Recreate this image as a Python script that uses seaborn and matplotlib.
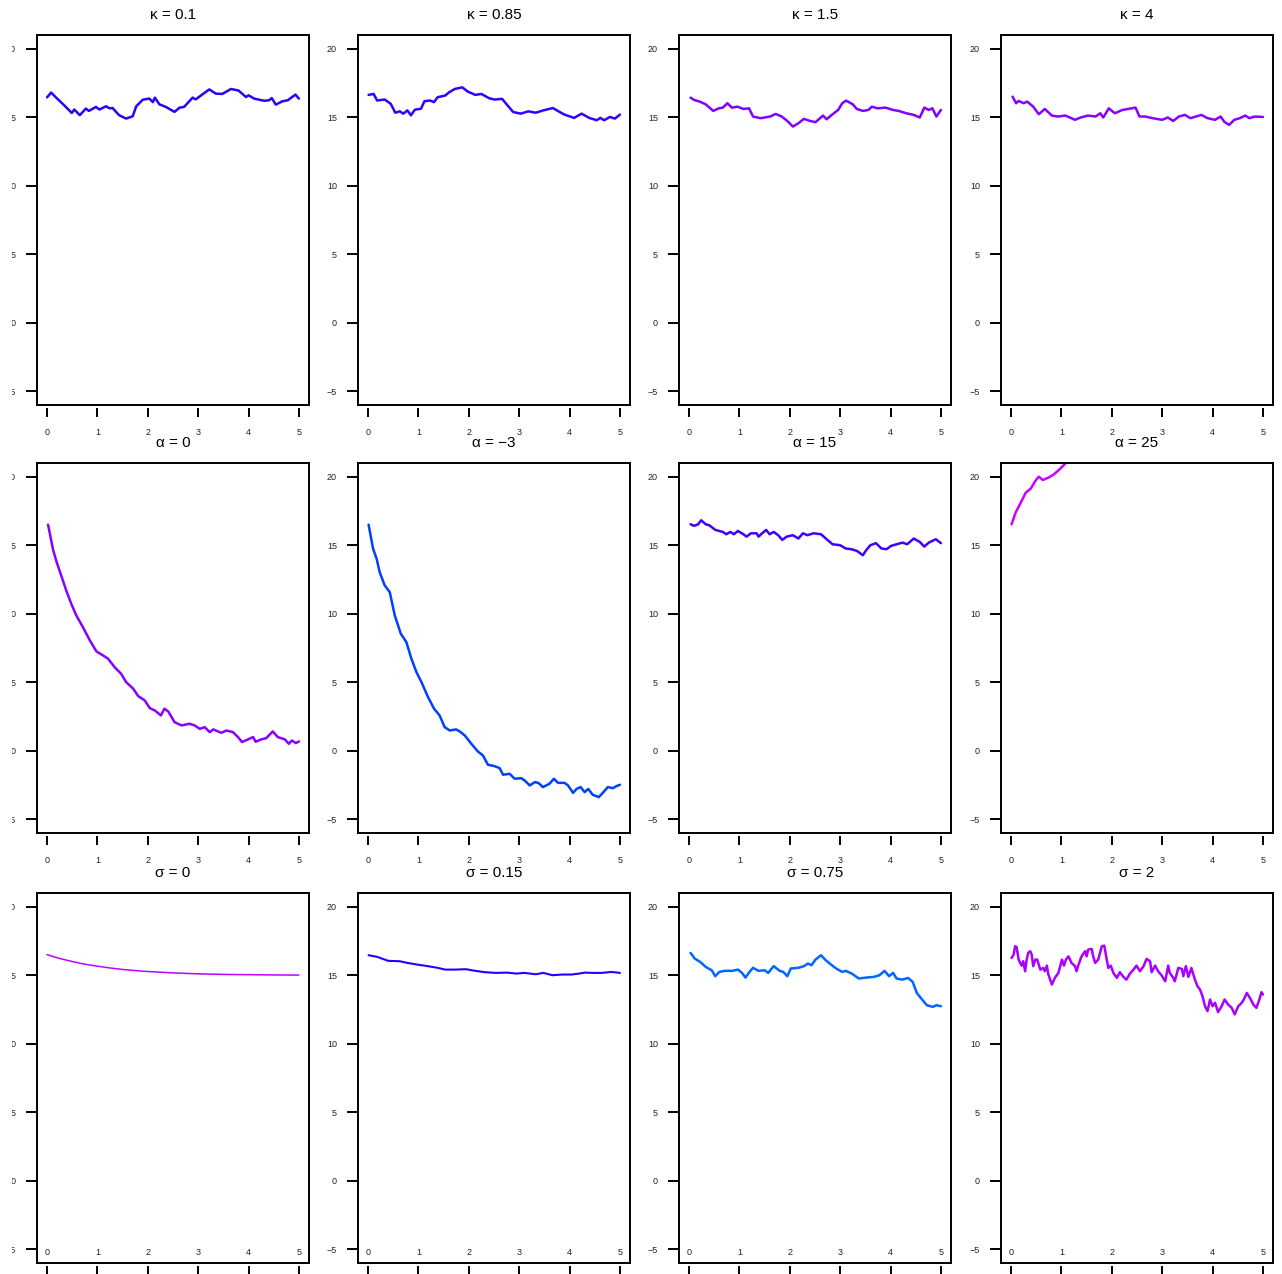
import matplotlib
matplotlib.use("Agg")
import matplotlib.pyplot as plt
import pandas as pd
import seaborn as sns
from matplotlib.transforms import Bbox, TransformedBbox

# ---- sample paths (time, level) for each parameter setting ----
t_kappa_01 = [0.0, 0.08, 0.18, 0.34, 0.49, 0.54, 0.65, 0.77, 0.83, 0.97, 1.04, 1.17, 1.24, 1.3, 1.43, 1.57,
              1.7, 1.77, 1.9, 2.03, 2.1, 2.14, 2.23, 2.36, 2.53, 2.63, 2.72, 2.89, 2.95, 3.06, 3.22, 3.35,
              3.48, 3.65, 3.8, 3.95, 4.0, 4.11, 4.31, 4.41, 4.46, 4.54, 4.67, 4.78, 4.93, 5.0]
y_kappa_01 = [16.45, 16.8, 16.43, 15.87, 15.31, 15.56, 15.15, 15.63, 15.46, 15.75, 15.56, 15.8, 15.65, 15.67,
              15.15, 14.9, 15.07, 15.8, 16.28, 16.36, 16.1, 16.43, 15.94, 15.75, 15.39, 15.7, 15.75, 16.43,
              16.3, 16.6, 17.03, 16.72, 16.7, 17.06, 16.95, 16.47, 16.6, 16.36, 16.2, 16.24, 16.4, 15.92,
              16.16, 16.24, 16.65, 16.36]

t_kappa_085 = [0.01, 0.11, 0.18, 0.33, 0.45, 0.54, 0.63, 0.7, 0.78, 0.85, 0.93, 1.05, 1.12, 1.23, 1.31,
               1.38, 1.53, 1.61, 1.72, 1.87, 1.98, 2.13, 2.25, 2.4, 2.51, 2.66, 2.77, 2.88, 3.03, 3.18,
               3.33, 3.48, 3.67, 3.78, 3.9, 4.09, 4.24, 4.39, 4.54, 4.61, 4.69, 4.8, 4.9, 5.0]
y_kappa_085 = [16.63, 16.7, 16.22, 16.29, 15.98, 15.33, 15.43, 15.26, 15.5, 15.14, 15.55, 15.62, 16.17,
               16.22, 16.1, 16.46, 16.58, 16.82, 17.06, 17.18, 16.87, 16.63, 16.7, 16.39, 16.29, 16.34,
               15.86, 15.38, 15.26, 15.43, 15.33, 15.5, 15.67, 15.43, 15.19, 14.95, 15.26, 14.95, 14.78,
               14.95, 14.78, 15.02, 14.9, 15.19]

t_kappa_15 = [0.03, 0.1, 0.21, 0.33, 0.48, 0.59, 0.67, 0.76, 0.85, 0.96, 1.08, 1.19, 1.27, 1.42, 1.61,
              1.72, 1.84, 1.95, 2.06, 2.17, 2.28, 2.4, 2.51, 2.66, 2.73, 2.85, 2.96, 3.04, 3.12, 3.25,
              3.33, 3.45, 3.56, 3.63, 3.74, 3.9, 4.05, 4.16, 4.31, 4.46, 4.58, 4.67, 4.76, 4.83, 4.91, 5.0]
y_kappa_15 = [16.43, 16.26, 16.14, 15.94, 15.46, 15.65, 15.7, 16.02, 15.7, 15.77, 15.6, 15.65, 15.05,
              14.93, 15.05, 15.24, 15.05, 14.73, 14.32, 14.56, 14.88, 14.73, 14.64, 15.12, 14.85, 15.22,
              15.53, 16.02, 16.21, 15.94, 15.6, 15.46, 15.53, 15.77, 15.65, 15.7, 15.53, 15.46, 15.29,
              15.17, 14.98, 15.7, 15.53, 15.65, 15.05, 15.53]

t_kappa_4 = [0.03, 0.1, 0.15, 0.25, 0.32, 0.44, 0.55, 0.67, 0.81, 0.93, 1.08, 1.27, 1.38, 1.53, 1.68,
             1.77, 1.83, 1.94, 2.06, 2.21, 2.32, 2.47, 2.55, 2.66, 2.81, 3.0, 3.11, 3.22, 3.33, 3.45,
             3.56, 3.67, 3.78, 3.9, 4.05, 4.16, 4.24, 4.33, 4.43, 4.54, 4.65, 4.73, 4.84, 5.0]
y_kappa_4 = [16.5, 16.02, 16.19, 16.02, 16.14, 15.77, 15.22, 15.6, 15.12, 15.05, 15.12, 14.81, 14.98,
             15.12, 15.05, 15.29, 14.98, 15.65, 15.29, 15.53, 15.6, 15.7, 15.05, 15.05, 14.93, 14.81,
             14.98, 14.73, 15.05, 15.17, 14.93, 15.05, 15.17, 14.93, 14.81, 15.05, 14.64, 14.44, 14.81,
             14.93, 15.12, 14.93, 15.05, 15.02]

t_alpha_0 = [0.02, 0.12, 0.19, 0.28, 0.38, 0.48, 0.58, 0.71, 0.85, 0.98, 1.11, 1.21, 1.34, 1.47, 1.57,
             1.71, 1.81, 1.94, 2.04, 2.14, 2.26, 2.33, 2.41, 2.53, 2.67, 2.83, 2.93, 3.03, 3.13, 3.23,
             3.3, 3.46, 3.56, 3.69, 3.79, 3.87, 3.99, 4.09, 4.14, 4.25, 4.35, 4.48, 4.58, 4.72, 4.8,
             4.86, 4.94, 5.0]
y_alpha_0 = [16.5, 14.65, 13.77, 12.8, 11.7, 10.73, 9.88, 9.03, 8.05, 7.25, 6.96, 6.72, 6.11, 5.62, 5.01,
             4.53, 3.99, 3.67, 3.11, 2.94, 2.58, 3.07, 2.85, 2.09, 1.85, 1.97, 1.85, 1.6, 1.72, 1.36,
             1.56, 1.31, 1.48, 1.36, 1.0, 0.64, 0.83, 1.0, 0.66, 0.83, 0.92, 1.41, 1.0, 0.83, 0.51,
             0.75, 0.56, 0.68]

t_alpha_m3 = [0.01, 0.1, 0.17, 0.23, 0.33, 0.43, 0.53, 0.65, 0.76, 0.86, 0.96, 1.06, 1.19, 1.31, 1.42,
              1.52, 1.62, 1.75, 1.82, 1.92, 2.05, 2.18, 2.28, 2.38, 2.51, 2.61, 2.68, 2.81, 2.91, 3.04,
              3.11, 3.21, 3.31, 3.38, 3.47, 3.6, 3.69, 3.77, 3.9, 3.97, 4.07, 4.14, 4.22, 4.3, 4.37,
              4.46, 4.58, 4.66, 4.76, 4.86, 4.93, 5.0]
y_alpha_m3 = [16.5, 14.74, 14.01, 13.04, 12.07, 11.58, 9.88, 8.54, 7.93, 6.72, 5.74, 5.01, 3.92, 3.07,
              2.58, 1.73, 1.48, 1.56, 1.41, 1.12, 0.51, -0.05, -0.34, -1.02, -1.12, -1.26, -1.75, -1.68,
              -2.04, -2.0, -2.17, -2.53, -2.29, -2.34, -2.65, -2.41, -2.04, -2.34, -2.34, -2.53, -3.07,
              -2.78, -2.65, -3.02, -2.78, -3.21, -3.38, -3.07, -2.65, -2.73, -2.58, -2.48]

t_alpha_15 = [0.03, 0.1, 0.18, 0.24, 0.33, 0.4, 0.52, 0.67, 0.74, 0.82, 0.89, 0.97, 1.08, 1.14, 1.23,
              1.34, 1.38, 1.45, 1.53, 1.6, 1.68, 1.77, 1.85, 1.94, 2.06, 2.17, 2.26, 2.35, 2.47, 2.62,
              2.73, 2.85, 3.0, 3.11, 3.22, 3.33, 3.45, 3.52, 3.6, 3.71, 3.82, 3.92, 4.01, 4.12, 4.24,
              4.33, 4.46, 4.58, 4.67, 4.76, 4.9, 5.0]
y_alpha_15 = [16.53, 16.41, 16.53, 16.82, 16.53, 16.46, 16.12, 15.97, 15.8, 15.97, 15.8, 16.04, 15.8,
              15.63, 15.87, 15.87, 15.63, 15.87, 16.12, 15.8, 15.97, 15.73, 15.39, 15.63, 15.73, 15.49,
              15.87, 15.73, 15.87, 15.8, 15.44, 15.07, 15.0, 14.76, 14.71, 14.59, 14.27, 14.66, 15.0,
              15.15, 14.76, 14.71, 14.95, 15.07, 15.19, 15.07, 15.49, 15.24, 14.9, 15.19, 15.44, 15.15]

t_alpha_25 = [0.01, 0.09, 0.14, 0.21, 0.29, 0.39, 0.48, 0.55, 0.63, 0.74, 0.85, 0.96, 1.08, 1.15]
y_alpha_25 = [16.53, 17.38, 17.74, 18.23, 18.83, 19.13, 19.68, 20.0, 19.76, 19.93, 20.17, 20.53, 20.97, 21.26]

t_sigma_0 = [0.0, 0.25, 0.5, 0.75, 1.0, 1.25, 1.5, 1.75, 2.0, 2.5, 3.0, 3.5, 4.0, 4.5, 5.0]
y_sigma_0 = [16.5, 16.22, 16.0, 15.8, 15.66, 15.53, 15.42, 15.34, 15.27, 15.17, 15.1, 15.06, 15.04, 15.02, 15.01]

t_sigma_015 = [0.01, 0.18, 0.4, 0.63, 0.78, 0.97, 1.19, 1.38, 1.53, 1.72, 1.94, 2.13, 2.32, 2.54, 2.76,
               2.95, 3.1, 3.33, 3.48, 3.66, 3.85, 4.04, 4.19, 4.3, 4.45, 4.64, 4.83, 5.0]
y_sigma_015 = [16.46, 16.34, 16.05, 16.02, 15.9, 15.78, 15.66, 15.54, 15.41, 15.41, 15.44, 15.32, 15.22,
               15.17, 15.19, 15.12, 15.17, 15.07, 15.17, 15.0, 15.05, 15.05, 15.12, 15.19, 15.17, 15.17,
               15.24, 15.17]

t_sigma_075 = [0.03, 0.11, 0.22, 0.33, 0.45, 0.52, 0.6, 0.71, 0.86, 0.97, 1.05, 1.12, 1.2, 1.27, 1.38,
               1.5, 1.57, 1.68, 1.8, 1.87, 1.95, 2.02, 2.17, 2.28, 2.36, 2.43, 2.51, 2.62, 2.7, 2.81,
               2.92, 3.04, 3.11, 3.23, 3.37, 3.52, 3.67, 3.78, 3.88, 3.97, 4.05, 4.12, 4.23, 4.35, 4.44,
               4.52, 4.61, 4.72, 4.84, 4.91, 5.0]
y_sigma_075 = [16.63, 16.22, 15.97, 15.61, 15.36, 14.93, 15.24, 15.32, 15.32, 15.41, 15.17, 14.83, 15.24,
               15.54, 15.32, 15.36, 15.17, 15.66, 15.32, 15.24, 14.93, 15.49, 15.54, 15.66, 15.85, 15.73,
               16.14, 16.46, 16.14, 15.8, 15.49, 15.24, 15.32, 15.12, 14.76, 14.83, 14.88, 15.0, 15.32,
               14.93, 15.17, 14.76, 14.68, 14.8, 14.51, 13.71, 13.3, 12.81, 12.69, 12.81, 12.74]

t_sigma_2 = [0.01, 0.05, 0.08, 0.11, 0.15, 0.18, 0.21, 0.24, 0.28, 0.31, 0.34, 0.38, 0.41, 0.44, 0.48,
             0.52, 0.58, 0.64, 0.67, 0.71, 0.74, 0.81, 0.87, 0.94, 1.01, 1.05, 1.09, 1.14, 1.2, 1.27,
             1.3, 1.34, 1.4, 1.47, 1.5, 1.53, 1.6, 1.63, 1.67, 1.73, 1.8, 1.85, 1.9, 1.93, 1.98,
             2.03, 2.1, 2.16, 2.23, 2.29, 2.36, 2.43, 2.49, 2.56, 2.63, 2.69, 2.76, 2.79, 2.86, 2.92,
             2.99, 3.06, 3.12, 3.15, 3.22, 3.25, 3.32, 3.39, 3.42, 3.47, 3.52, 3.58, 3.65, 3.7, 3.75,
             3.8, 3.85, 3.9, 3.95, 4.0, 4.05, 4.11, 4.18, 4.24, 4.31, 4.38, 4.44, 4.51, 4.58, 4.62,
             4.68, 4.74, 4.81, 4.87, 4.93, 4.97, 5.0]
y_sigma_2 = [16.26, 16.5, 17.11, 17.06, 16.14, 15.9, 15.7, 16.02, 15.29, 16.14, 16.63, 16.75, 16.5, 15.66,
             16.14, 16.14, 15.41, 15.53, 15.29, 15.7, 15.05, 14.32, 14.81, 15.17, 16.14, 15.7, 16.14,
             16.38, 15.9, 15.66, 15.29, 15.78, 16.38, 16.75, 16.38, 16.87, 16.92, 16.38, 15.9, 16.14,
             17.11, 17.16, 16.14, 15.53, 15.7, 15.17, 14.81, 15.22, 14.88, 14.68, 15.12, 15.41, 15.7,
             15.29, 15.66, 16.19, 16.02, 15.22, 15.7, 15.29, 14.98, 14.56, 15.7, 15.17, 14.81, 14.56,
             15.53, 15.46, 14.93, 15.66, 14.88, 15.53, 14.68, 14.2, 13.96, 13.47, 12.74, 12.38, 13.23,
             12.74, 12.99, 12.31, 12.74, 13.23, 12.86, 12.62, 12.14, 12.74, 12.99, 13.23, 13.71, 13.35,
             12.86, 12.62, 13.23, 13.76, 13.59]

titles = ["κ = 0.1", "κ = 0.85", "κ = 1.5", "κ = 4",
          "α = 0", "α = \u22123", "α = 15", "α = 25",
          "σ = 0", "σ = 0.15", "σ = 0.75", "σ = 2"]
series = [(t_kappa_01, y_kappa_01), (t_kappa_085, y_kappa_085), (t_kappa_15, y_kappa_15),
          (t_kappa_4, y_kappa_4), (t_alpha_0, y_alpha_0), (t_alpha_m3, y_alpha_m3),
          (t_alpha_15, y_alpha_15), (t_alpha_25, y_alpha_25), (t_sigma_0, y_sigma_0),
          (t_sigma_015, y_sigma_015), (t_sigma_075, y_sigma_075), (t_sigma_2, y_sigma_2)]
colors = ["#2a00ff", "#3300ff", "#8000ff", "#8800ff",
          "#8800ff", "#0040ff", "#4000ff", "#cc00ff",
          "#c000ff", "#2200ff", "#0066ff", "#aa00ff"]
x_ticks = [0, 1, 2, 3, 4, 5]
y_ticks = [-5, 0, 5, 10, 15, 20]

# ---- styling ----
sns.set_style("white")
plt.rcParams["font.family"] = ["Liberation Sans", "DejaVu Sans"]

W, H = 1282, 1274
fig = plt.figure(figsize=(W / 100, H / 100), dpi=100, facecolor="white")

col_left = [37, 358, 679, 1001]
row_top = [35, 463, 893]
box_w, box_h = 272, 370
left_axes = []

for i, (title, (t, y), color) in enumerate(zip(titles, series, colors)):
    r, c = divmod(i, 4)
    ax = fig.add_axes([col_left[c] / W, 1 - (row_top[r] + box_h) / H, box_w / W, box_h / H])
    df = pd.DataFrame({"t": t, "y": y})
    lw = 1.1 if title == "σ = 0" else (1.5 if title == "σ = 0.15" else 1.8)
    sns.lineplot(data=df, x="t", y="y", ax=ax, color=color, lw=lw,
                 sort=False, estimator=None, solid_joinstyle="round")
    ax.set_xlim(-0.2, 5.2)
    ax.set_ylim(-6, 21)
    ax.set_xlabel("")
    ax.set_ylabel("")
    ax.set_facecolor("white")
    for sp in ax.spines.values():
        sp.set_visible(True)
        sp.set_color("black")
        sp.set_linewidth(1.4)

    ax.set_yticks(y_ticks)
    ax.tick_params(axis="y", direction="out", length=7.9, width=1.4, pad=7.2,
                   labelsize=6.5, color="black", labelcolor="#222222", left=True)

    # x labels: below the box on the upper rows, inside the box on the last row
    ax.set_xticks(x_ticks)
    ax.tick_params(axis="x", length=0, pad=(16.5 if r < 2 else -10.8),
                   labelsize=6.5, labelcolor="#222222", bottom=True)

    # x tick marks sit slightly below the box edge
    sec = ax.secondary_xaxis(-3 / box_h)
    sec.set_xticks(x_ticks)
    sec.tick_params(axis="x", direction="out", length=6.5, width=1.4,
                    color="black", labelbottom=False)
    sec.spines["bottom"].set_visible(False)

    ax.text(0.5, 1 + 20 / box_h, title, transform=ax.transAxes,
            ha="center", va="center", fontsize=11, color="black")

    if c == 0:
        left_axes.append(ax)

fig.canvas.draw()
clip = TransformedBbox(Bbox.from_extents(11.5 / W, 0, 1, 1), fig.transFigure)
for ax in left_axes:
    for lab in ax.get_yticklabels():
        lab.set_clip_on(True)
        lab.set_clip_box(clip)

fig.savefig("out.png", dpi=100, facecolor="white")
